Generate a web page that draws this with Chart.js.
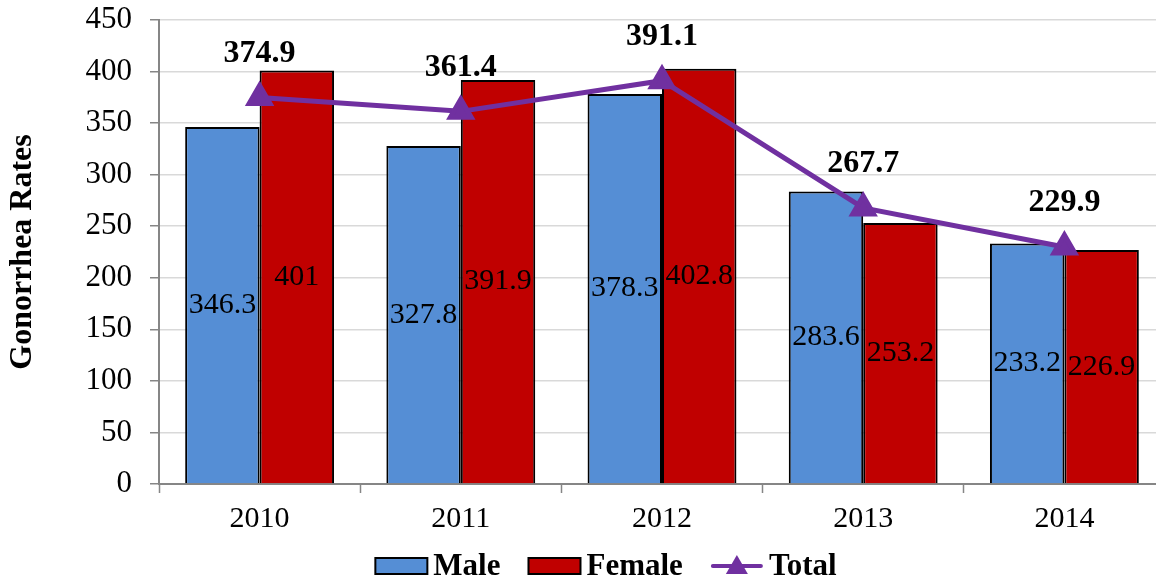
<!DOCTYPE html>
<html>
<head>
<meta charset="utf-8">
<script src="https://cdn.jsdelivr.net/npm/chart.js@4.4.0/dist/chart.umd.min.js"></script>
<style>
  html,body{margin:0;padding:0;background:#fff;overflow:hidden;}
  #wrap{width:1165px;height:583px;position:relative;}
</style>
</head>
<body>
<div id="wrap"><canvas id="grafico" width="1165" height="583"></canvas></div>
<script>
const years=["2010","2011","2012","2013","2014"];
const male=[346.3,327.8,378.3,283.6,233.2];
const female=[401,391.9,402.8,253.2,226.9];
const total=[374.9,361.4,391.1,267.7,229.9];

const FONT='"Liberation Serif","Times New Roman",serif';
const AXIS_GRAY="#868686";

// etiquetas de valores sobre las barras y la linea
const etiquetas={
  id:"etiquetas",
  afterDatasetsDraw(chart){
    const ctx=chart.ctx;
    ctx.save();
    ctx.textAlign="center";
    ctx.textBaseline="middle";
    ctx.fillStyle="#000";
    chart.data.datasets.forEach((ds,i)=>{
      const meta=chart.getDatasetMeta(i);
      meta.data.forEach((el,j)=>{
        const v=ds.data[j];
        if(ds.type==="line"){
          ctx.font="bold 32px "+FONT;
          ctx.fillText(String(v),el.x,el.y-44);
        }else{
          ctx.font="30px "+FONT;
          ctx.fillText(String(v),el.x,(el.y+el.base)/2);
        }
      });
    });
    ctx.restore();
  }
};

// leyenda abajo: cajas para barras, linea con triangulo para el total
const leyenda={
  id:"leyenda",
  afterDraw(chart){
    const ctx=chart.ctx;
    const y=566;
    ctx.save();
    ctx.font="bold 31px "+FONT;
    ctx.textBaseline="middle";
    const items=chart.data.datasets.map(ds=>({ds,w:ctx.measureText(ds.label).width}));
    const icon=52, gapTxt=6, gapItem=28;
    let totalW=0;
    items.forEach((it,k)=>{totalW+=icon+gapTxt+it.w+(k<items.length-1?gapItem:0);});
    let x=606-totalW/2;
    items.forEach(it=>{
      const ds=it.ds;
      if(ds.type==="line"){
        ctx.strokeStyle=ds.borderColor;
        ctx.lineWidth=4;
        ctx.lineCap="round";
        ctx.beginPath();ctx.moveTo(x+2,y);ctx.lineTo(x+icon-2,y);ctx.stroke();
        ctx.fillStyle=ds.borderColor;
        ctx.beginPath();
        ctx.moveTo(x+icon/2,y-11);ctx.lineTo(x+icon/2+11,y+8);ctx.lineTo(x+icon/2-11,y+8);
        ctx.closePath();ctx.fill();
      }else{
        ctx.fillStyle=ds.backgroundColor;
        ctx.fillRect(x,y-8,icon,16);
        ctx.strokeStyle="#000";
        ctx.lineWidth=2;
        ctx.strokeRect(x,y-8,icon,16);
      }
      ctx.fillStyle="#000";
      ctx.textAlign="left";
      ctx.fillText(ds.label,x+icon+gapTxt,y+1);
      x+=icon+gapTxt+it.w+gapItem;
    });
    ctx.restore();
  }
};

new Chart("grafico",{
  type:"bar",
  data:{
    labels:years,
    datasets:[
      {
        label:"Male",
        data:male,
        backgroundColor:"#558ED5",
        borderColor:"#000",
        borderWidth:2,
        categoryPercentage:0.74,
        barPercentage:1,
        order:1
      },
      {
        label:"Female",
        data:female,
        backgroundColor:"#C00000",
        borderColor:"#000",
        borderWidth:2,
        categoryPercentage:0.74,
        barPercentage:1,
        order:1
      },
      {
        type:"line",
        label:"Total",
        data:total,
        borderColor:"#7030A0",
        backgroundColor:"#7030A0",
        borderWidth:5,
        pointStyle:"triangle",
        pointRadius:12,
        pointHoverRadius:12,
        tension:0,
        fill:false,
        order:0
      }
    ]
  },
  options:{
    responsive:false,
    animation:false,
    layout:{autoPadding:false,padding:{top:0,right:0,bottom:46,left:0}},
    plugins:{
      legend:{display:false},
      tooltip:{enabled:false}
    },
    scales:{
      x:{
        offset:true,
        grid:{drawOnChartArea:false,drawTicks:true,tickLength:9,tickColor:AXIS_GRAY,tickWidth:1.5,offset:true},
        border:{color:AXIS_GRAY,width:2},
        ticks:{color:"#000",font:{family:FONT,size:30},padding:8,maxRotation:0},
        afterFit(s){s.height=53;}
      },
      y:{
        min:0,
        max:450,
        ticks:{stepSize:50,color:"#000",font:{family:FONT,size:31},padding:18},
        grid:{color:"#d9d9d9",lineWidth:1.5,tickLength:9,tickColor:AXIS_GRAY,tickWidth:1.5},
        border:{color:AXIS_GRAY,width:2},
        title:{display:true,text:"Gonorrhea Rates",color:"#000",font:{family:FONT,size:32,weight:"bold"},padding:{top:4,bottom:0}},
        afterFit(s){s.width=159;s.paddingTop=20;s.paddingBottom=0;}
      }
    }
  },
  plugins:[etiquetas,leyenda]
});
</script>
</body>
</html>
